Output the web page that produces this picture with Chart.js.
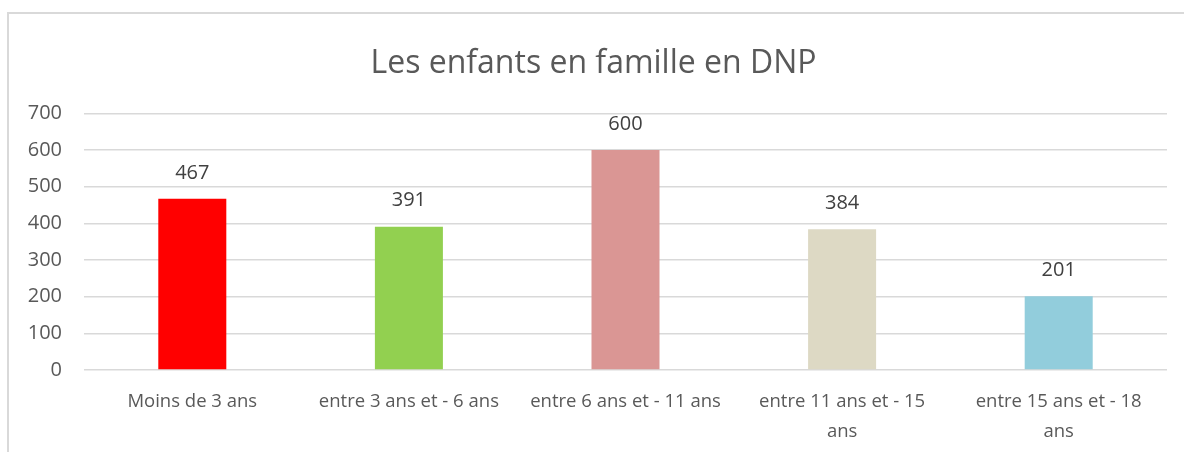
<!DOCTYPE html>
<html>
<head>
<meta charset="utf-8">
<script src="https://cdn.jsdelivr.net/npm/chart.js@4.4.1/dist/chart.umd.min.js"></script>
<style>
  html, body { margin: 0; padding: 0; background: #fff; overflow: hidden; }
  #wrap { position: relative; width: 1184px; height: 452px; }
  #frame { position: absolute; left: 7px; top: 12px; width: 1300px; height: 600px;
           border: 2px solid #d9d9d9; pointer-events: none; }
  canvas { position: absolute; left: 0; top: 0; }
</style>
</head>
<body>
<div id="wrap">
  <canvas id="myChart" width="1184" height="452"></canvas>
  <div id="frame"></div>
</div>
<script>
const categories = [
  'Moins de 3 ans',
  'entre 3 ans et - 6 ans',
  'entre 6 ans et - 11 ans',
  ['entre 11 ans et - 15', 'ans'],
  ['entre 15 ans et - 18', 'ans']
];
const enfants = [467, 391, 600, 384, 201];
const barColors = ['#ff0000', '#92d050', '#da9694', '#ddd9c4', '#92cddc'];
const yTicks = [0, 100, 200, 300, 400, 500, 600, 700];

const textColor = '#595959';
const fontFamily = "'Open Sans', 'Noto Sans', sans-serif";

// little plugin for the value above each bar
const valueLabels = {
  id: 'valueLabels',
  afterDatasetsDraw(chart) {
    const ctx = chart.ctx;
    const meta = chart.getDatasetMeta(0);
    ctx.save();
    ctx.fillStyle = '#404040';
    ctx.font = '20px ' + fontFamily;
    ctx.textAlign = 'center';
    ctx.textBaseline = 'bottom';
    meta.data.forEach((bar, i) => {
      ctx.fillText(chart.data.datasets[0].data[i], bar.x, bar.y - 16);
    });
    ctx.restore();
  }
};

chartIt();

function chartIt(){
  let ctx = document.getElementById('myChart').getContext('2d');
  Chart.defaults.color = textColor;
  Chart.defaults.font.family = fontFamily;

  let myChart = new Chart(ctx, {
    type: 'bar',
    data: {
      labels: categories,
      datasets: [{
        label: 'Enfants',
        data: enfants,
        backgroundColor: barColors,
        borderWidth: 0,
        barPercentage: 0.314,
        categoryPercentage: 1
      }]
    },
    options: {
      responsive: false,
      animation: false,
      layout: { padding: { left: 20, right: 17, top: 0, bottom: 0 } },
      plugins: {
        legend: { display: false },
        tooltip: { enabled: false },
        title: {
          display: true,
          text: 'Les enfants en famille en DNP',
          color: textColor,
          font: { size: 32, weight: 'normal' },
          padding: { top: 45, bottom: 30 }
        }
      },
      scales: {
        x: {
          afterFit: function(scale) { scale.height = 82; },
          grid: { display: false, drawTicks: false },
          border: { display: false },
          ticks: {
            font: { size: 18.5, lineHeight: 1.6 },
            color: textColor,
            padding: 17,
            maxRotation: 0,
            autoSkip: false
          }
        },
        y: {
          min: 0,
          max: 700,
          afterFit: function(scale) { scale.width = 64; },
          afterBuildTicks: function(scale) {
            scale.ticks = yTicks.map(v => ({ value: v }));
          },
          grid: { color: '#d9d9d9', lineWidth: 1.4, drawTicks: false },
          border: { display: false },
          ticks: {
            font: { size: 20 },
            color: textColor,
            padding: 22
          }
        }
      }
    },
    plugins: [valueLabels]
  });
}
</script>
</body>
</html>
